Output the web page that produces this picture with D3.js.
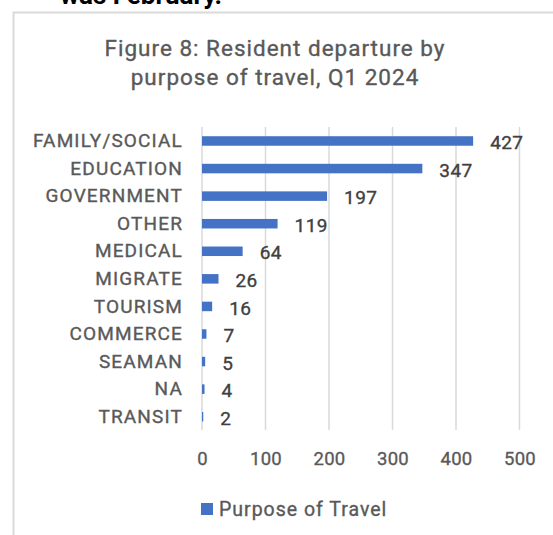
<!DOCTYPE html>
<html><head><meta charset="utf-8">
<script src="https://cdn.jsdelivr.net/npm/d3@7"></script>
<style>
html,body{margin:0;padding:0;background:#fff;}
svg text{font-family:Roboto, "DejaVu Sans", sans-serif;}
</style></head>
<body><svg id="c" width="553" height="535"></svg>
<script>
const categories = ["FAMILY/SOCIAL","EDUCATION","GOVERNMENT","OTHER","MEDICAL","MIGRATE","TOURISM","COMMERCE","SEAMAN","NA","TRANSIT"];
const values = [427,347,197,119,64,26,16,7,5,4,2];
const xTicks = [0,100,200,300,400,500];
const seriesName = "Purpose of Travel";
const titleLines = ["Figure 8: Resident departure by","purpose of travel, Q1 2024"];

const svg = d3.select("#c");
const barColor = "#4472c4", textColor = "#595959", gridColor = "#d9d9d9";
const thick = 0.35;

// partial text above the chart
svg.append("text").attr("x",60).attr("y",4).attr("font-size",26).attr("font-weight","bold")
  .attr("fill","#000").text("was February.");

// chart border
svg.append("rect").attr("x",13.5).attr("y",12.5).attr("width",560).attr("height",540)
  .attr("fill","#fff").attr("stroke",gridColor).attr("stroke-width",2);

// title
svg.append("g").selectAll("text").data(titleLines).join("text")
  .attr("x",275).attr("y",(d,i)=>56+i*29).attr("text-anchor","middle")
  .attr("font-size",22.5).attr("letter-spacing",1.0)
  .attr("fill",textColor).attr("stroke",textColor).attr("stroke-width",thick).text(d=>d);

const x = d3.scaleLinear().domain([0,500]).range([202,519.5]);
const y = d3.scaleBand().domain(categories).range([127.2,430.5]).paddingInner(0.655).paddingOuter(0.3275);

// gridlines
svg.append("g").selectAll("line").data(xTicks).join("line")
  .attr("x1",d=>x(d)).attr("x2",d=>x(d)).attr("y1",127).attr("y2",430)
  .attr("stroke",gridColor).attr("stroke-width",1.5);

// x axis
const xAxis = svg.append("g").attr("transform","translate(0,430)")
  .call(d3.axisBottom(x).tickValues(xTicks).tickSize(0).tickPadding(22));
xAxis.select(".domain").remove();
xAxis.selectAll("text").attr("font-size",18.5).attr("letter-spacing",0.2)
  .attr("fill",textColor).attr("stroke",textColor).attr("stroke-width",thick).style("font-family","Roboto");

// y axis
const yAxis = svg.append("g").attr("transform","translate(183,0)")
  .call(d3.axisLeft(y).tickSize(0).tickPadding(0));
yAxis.select(".domain").remove();
yAxis.selectAll("text").attr("font-size",19).attr("letter-spacing",1.15)
  .attr("fill",textColor).attr("stroke",textColor).attr("stroke-width",thick).style("font-family","Roboto");

// bars
svg.append("g").selectAll("rect").data(values).join("rect")
  .attr("x",x(0)).attr("y",(d,i)=>y(categories[i]))
  .attr("width",d=>x(d)-x(0)).attr("height",y.bandwidth()).attr("fill",barColor);

// value labels
svg.append("g").selectAll("text").data(values).join("text")
  .attr("x",d=>x(d)+17).attr("y",(d,i)=>y(categories[i])+y.bandwidth()/2+1.5)
  .attr("dy","0.35em").attr("font-size",19).attr("letter-spacing",0.4)
  .attr("fill","#404040").attr("stroke","#404040").attr("stroke-width",thick).text(d=>d);

// legend
svg.append("rect").attr("x",201).attr("y",503).attr("width",12).attr("height",12).attr("fill",barColor);
svg.append("text").attr("x",219).attr("y",509.5).attr("dy","0.35em").attr("font-size",19.5)
  .attr("letter-spacing",1.0)
  .attr("fill",textColor).attr("stroke",textColor).attr("stroke-width",thick).text(seriesName);
</script></body></html>
